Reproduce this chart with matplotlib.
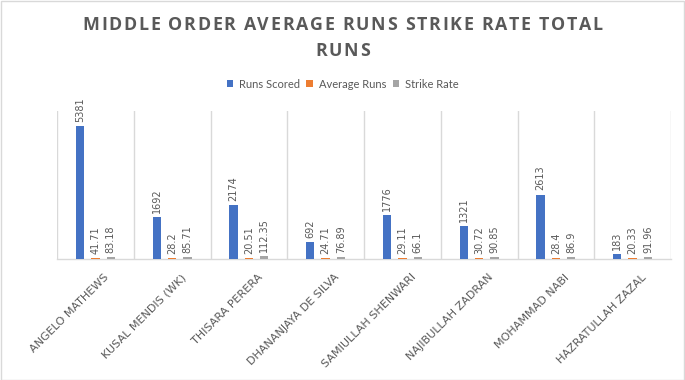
import matplotlib
matplotlib.use("Agg")
import matplotlib.pyplot as plt
import numpy as np
from matplotlib.patches import Rectangle, Patch
from matplotlib.font_manager import FontProperties
from matplotlib.transforms import ScaledTranslation

players = ["ANGELO MATHEWS", "KUSAL MENDIS (WK)", "THISARA PERERA", "DHANANJAYA DE SILVA",
           "SAMIULLAH SHENWARI", "NAJIBULLAH ZADRAN", "MOHAMMAD NABI", "HAZRATULLAH ZAZAL"]
runs_scored = [5381, 1692, 2174, 692, 1776, 1321, 2613, 183]
average_runs = [41.71, 28.2, 20.51, 24.71, 29.11, 30.72, 28.4, 20.33]
strike_rate = [83.18, 85.71, 112.35, 76.89, 66.1, 90.85, 86.9, 91.96]
series_names = ["Runs Scored", "Average Runs", "Strike Rate"]
colors = ["#4472C4", "#ED7D31", "#A5A5A5"]
title_lines = ["MIDDLE ORDER AVERAGE RUNS STRIKE RATE TOTAL", "RUNS"]

W, H = 685, 380
fig = plt.figure(figsize=(6.85, 3.8), dpi=100)
ax = fig.add_axes([57/W, 1-259/H, (671-57)/W, (259-111)/H])

x = np.arange(len(players))
w = 0.11
offs = [-0.2, 0.0, 0.2]
data = [runs_scored, average_runs, strike_rate]
txt = "#595959"
for d, o, c in zip(data, offs, colors):
    bars = ax.bar(x + o, d, width=w, color=c, zorder=3)
    for b, v in zip(bars, d):
        ax.annotate(f"{v:g}", (b.get_x() + b.get_width()/2, b.get_height()),
                    xytext=(0, 3), textcoords="offset points", rotation=90,
                    ha="center", va="bottom", fontsize=7, color=txt)

ax.set_ylim(0, 6000)
ax.set_xlim(-0.5, len(players) - 0.5)
ax.set_yticks([])
ax.set_xticks(x)
ax.set_xticklabels(players, rotation=45, ha="right", va="center", rotation_mode="anchor",
                   fontsize=8, color=txt)
ax.tick_params(axis="x", length=0, pad=12)
shift = ScaledTranslation(12/100, 0, fig.dpi_scale_trans)
for lab in ax.get_xticklabels():
    lab.set_transform(lab.get_transform() + shift)
ax.set_xticks(np.arange(-0.5, len(players)), minor=True)
ax.tick_params(axis="x", which="minor", length=0)
ax.grid(True, axis="x", which="minor", color="#D9D9D9", linewidth=1, zorder=0)
ax.grid(False, axis="x", which="major")
for s in ["top", "left", "right"]:
    ax.spines[s].set_visible(False)
ax.spines["bottom"].set_color("#D9D9D9")
ax.spines["bottom"].set_linewidth(1)

# tracked title
renderer = fig.canvas.get_renderer()
fp = FontProperties(family="Open Sans", weight="bold", size=12.8)
def widths(s):
    return [renderer.get_text_width_height_descent(ch, fp, ismath=False)[0] for ch in s]
w1 = widths(title_lines[0])
target = 603 - 83
spacing = (target - sum(w1)) / (len(w1) - 1)
for line, base in zip(title_lines, [29.5, 56]):
    ws = widths(line)
    total = sum(ws) + spacing * (len(ws) - 1)
    xpos = W / 2 - total / 2
    for ch, cw in zip(line, ws):
        fig.text(xpos / W, 1 - base / H, ch, ha="left", va="baseline",
                 fontproperties=fp, color=txt)
        xpos += cw + spacing

handles = [Patch(facecolor=c, label=n) for c, n in zip(colors, series_names)]
fig.legend(handles=handles, loc="center", bbox_to_anchor=(0.5, 1-84/H), ncol=3,
           frameon=False, prop=FontProperties(family="Lato", size=8),
           handlelength=0.6, handleheight=0.6,
           handletextpad=0.5, columnspacing=0.6, labelcolor=txt)

fig.add_artist(Rectangle((0.001, 0.001), 0.997, 0.997, transform=fig.transFigure,
                         fill=False, edgecolor="#D9D9D9", linewidth=1))
fig.savefig("out.png", dpi=100)
